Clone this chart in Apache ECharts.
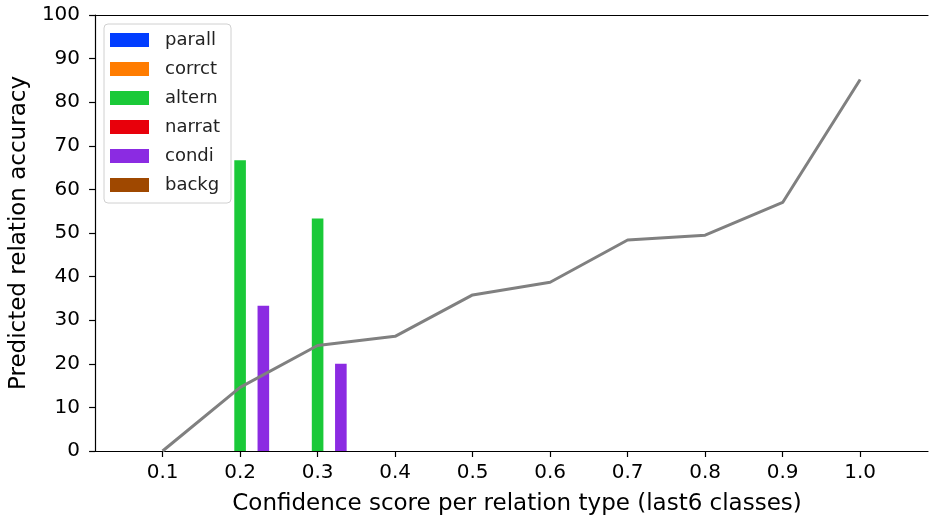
<!DOCTYPE html>
<html>
<head>
<meta charset="utf-8">
<script src="https://cdn.jsdelivr.net/npm/echarts@6/dist/echarts.min.js"></script>
<style>
  html, body { margin: 0; padding: 0; background: #fff; }
  #chart { width: 929px; height: 521px; }
</style>
</head>
<body>
<div id="chart"></div>
<script>
// relation classes, in legend order
var classNames = ['parall', 'corrct', 'altern', 'narrat', 'condi', 'backg'];
var classColors = ['#023eff', '#ff7c00', '#1ac938', '#e8000b', '#8b2be2', '#9f4800'];

// per-class accuracy at confidence bins (empty = nothing drawn)
var classBins = [
	[],
	[],
	[0.2, 0.3],
	[],
	[0.2, 0.3],
	[]
];
var classValues = [
	[],
	[],
	[66.7, 53.3],
	[],
	[33.3, 20.0],
	[]
];

// overall accuracy curve
var lineX = [0.1, 0.2, 0.3, 0.4, 0.5, 0.6, 0.7, 0.8, 0.9, 1.0];
var lineY = [0, 14.6, 24.2, 26.3, 35.8, 38.7, 48.4, 49.5, 57.0, 85.2];

var xTicks = [0.1, 0.2, 0.3, 0.4, 0.5, 0.6, 0.7, 0.8, 0.9, 1.0];

var barStep = 0.015;
var fontFamily = 'DejaVu Sans';
var xMin = 0.0129;
var xMax = 1.0875;

var myChart = echarts.init(document.getElementById('chart'));

var series = [];
classNames.forEach(function (name, i) {
	var data = classBins[i].map(function (b, k) {
		return [b + (i - 2) * barStep, classValues[i][k]];
	});
	series.push({
		name: name,
		type: 'bar',
		barWidth: 11.6,
		barGap: '-100%',
		itemStyle: { color: classColors[i] },
		data: data
	});
});
// 整体准确率曲线
series.push({
	name: 'overall',
	type: 'line',
	symbol: 'none',
	z: 5,
	lineStyle: { color: '#808080', width: 3 },
	data: lineX.map(function (x, k) { return [x, lineY[k]]; })
});

// 原图右侧边框被裁掉: 只画下/左/上三条边
var option = {
	animation: false,
	textStyle: { fontFamily: fontFamily },
	grid: {
		left: 93,
		right: 1,
		top: 15,
		bottom: 69
	},
	legend: {
		data: classNames,
		orient: 'vertical',
		left: 104,
		top: 24,
		icon: 'rect',
		itemWidth: 39,
		itemHeight: 14,
		itemGap: 11,
		padding: [7, 11, 9, 6],
		backgroundColor: '#fff',
		borderColor: '#d0d0d0',
		borderWidth: 1,
		borderRadius: 4,
		textStyle: { fontSize: 18, color: '#222', fontFamily: fontFamily, padding: [0, 0, 0, 11] }
	},
	xAxis: [{
		type: 'value',
		min: xMin,
		max: xMax,
		name: 'Confidence score per relation type (last6 classes)',
		nameLocation: 'middle',
		nameGap: 42,
		nameTextStyle: { fontSize: 23, color: '#000', fontFamily: fontFamily, padding: [0, 0, 0, 11] },
		splitLine: { show: false },
		axisLine: { lineStyle: { color: '#000', width: 1.2 } },
		axisTick: { length: 6, lineStyle: { color: '#000', width: 1.2 }, customValues: xTicks },
		axisLabel: {
			customValues: xTicks,
			fontSize: 20,
			color: '#000',
			margin: 12,
			formatter: function (v) { return v.toFixed(1); }
		}
	}, {
		type: 'value',
		position: 'top',
		min: xMin,
		max: xMax,
		splitLine: { show: false },
		axisLine: { show: true, lineStyle: { color: '#000', width: 1.2 } },
		axisTick: { show: false },
		axisLabel: { show: false }
	}],
	yAxis: {
		type: 'value',
		min: 0,
		max: 100,
		interval: 10,
		name: 'Predicted relation accuracy',
		nameLocation: 'middle',
		nameGap: 60,
		nameTextStyle: { fontSize: 23, color: '#000', fontFamily: fontFamily },
		splitLine: { show: false },
		axisLine: { show: true, lineStyle: { color: '#000', width: 1.2 } },
		axisTick: { show: true, length: 6, lineStyle: { color: '#000', width: 1.2 } },
		axisLabel: { fontSize: 20, color: '#000', margin: 15 }
	},
	series: series
};

myChart.setOption(option);
</script>
</body>
</html>
